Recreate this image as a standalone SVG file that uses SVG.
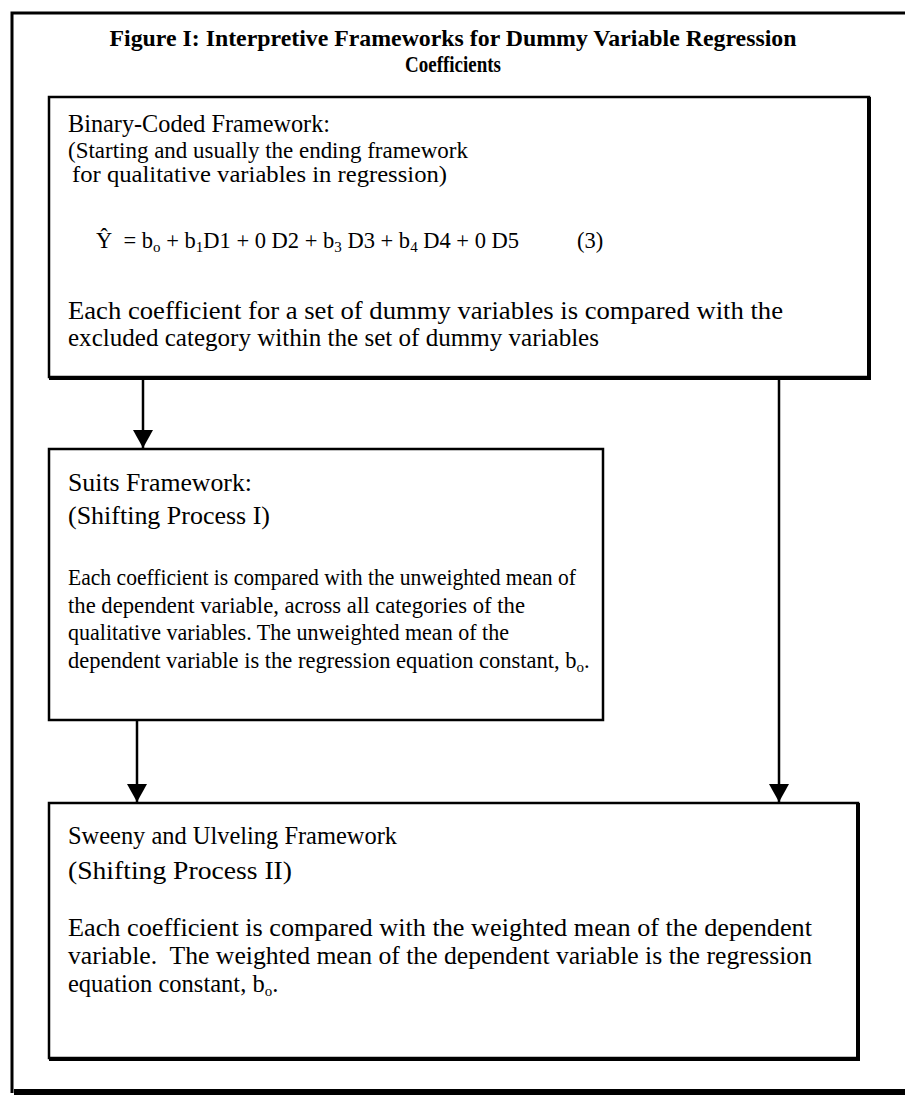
<svg xmlns="http://www.w3.org/2000/svg" width="905" height="1095" viewBox="0 0 905 1095">
<style>
text{font-family:"Liberation Serif","Times New Roman",serif;fill:#000}
.title{font-weight:bold;font-size:24px}
.head{font-size:26px}
.body{font-size:22.5px}
.big{font-size:24.5px}
.sub{font-size:15px}
.box{fill:#fff;stroke:#000;stroke-width:2.5}
.conn{stroke:#000;stroke-width:2.5;fill:none}
</style>
<defs>
<marker id="arr" markerWidth="18" markerHeight="20" refX="18" refY="10" orient="auto" markerUnits="userSpaceOnUse" viewBox="0 0 18 20">
<path d="M0,0 L18,10 L0,20 Z" fill="#000"/>
</marker>
</defs>
<rect width="905" height="1095" fill="#fff"/>
<g id="frame">
<path d="M12,1093 V13 H905" fill="none" stroke="#000" stroke-width="3"/>
<rect x="14" y="1089" width="891" height="6" fill="#000"/>
</g>
<g id="title">
<text class="title" x="453" y="46" text-anchor="middle" textLength="687" lengthAdjust="spacingAndGlyphs">Figure I: Interpretive Frameworks for Dummy Variable Regression</text>
<text class="title" x="453" y="72" text-anchor="middle" textLength="96" lengthAdjust="spacingAndGlyphs">Coefficients</text>
</g>
<g id="connectors">
<line class="conn" x1="143" y1="377" x2="143" y2="448" marker-end="url(#arr)"/>
<line class="conn" x1="779" y1="377" x2="779" y2="802" marker-end="url(#arr)"/>
<line class="conn" x1="137" y1="720" x2="137" y2="802" marker-end="url(#arr)"/>
</g>
<g id="binary">
<rect class="box" x="49" y="97" width="820" height="280"/>
<path d="M869,97 V378 H49" fill="none" stroke="#000" stroke-width="4"/>
<text class="head" x="68" y="132" textLength="262" lengthAdjust="spacingAndGlyphs">Binary-Coded Framework:</text>
<text class="body" x="68" y="158" textLength="400" lengthAdjust="spacingAndGlyphs">(Starting and usually the ending framework</text>
<text class="body" x="72" y="182" textLength="375" lengthAdjust="spacingAndGlyphs">for qualitative variables in regression)</text>
<text class="body" x="96" y="248">Ŷ&#160; = b<tspan class="sub" dy="4">o</tspan><tspan dy="-4"> + b</tspan><tspan class="sub" dy="4">1</tspan><tspan dy="-4">D1 + 0 D2 + b</tspan><tspan class="sub" dy="4">3</tspan><tspan dy="-4"> D3 + b</tspan><tspan class="sub" dy="4">4</tspan><tspan dy="-4"> D4 + 0 D5</tspan><tspan x="577">(3)</tspan></text>
<text class="big" x="68" y="319" textLength="715" lengthAdjust="spacingAndGlyphs">Each coefficient for a set of dummy variables is compared with the</text>
<text class="big" x="68" y="346" textLength="531" lengthAdjust="spacingAndGlyphs">excluded category within the set of dummy variables</text>
</g>
<g id="suits">
<rect class="box" x="49" y="449" width="554" height="271"/>
<text class="head" x="68" y="491" textLength="184" lengthAdjust="spacingAndGlyphs">Suits Framework:</text>
<text class="head" x="68" y="524" textLength="202" lengthAdjust="spacingAndGlyphs">(Shifting Process I)</text>
<text class="body" x="68" y="585" textLength="508" lengthAdjust="spacingAndGlyphs">Each coefficient is compared with the unweighted mean of</text>
<text class="body" x="68" y="613" textLength="457" lengthAdjust="spacingAndGlyphs">the dependent variable, across all categories of the</text>
<text class="body" x="68" y="640" textLength="441" lengthAdjust="spacingAndGlyphs">qualitative variables. The unweighted mean of the</text>
<text class="body" x="68" y="668">dependent variable is the regression equation constant, b<tspan class="sub" dy="4">o</tspan><tspan dy="-4">.</tspan></text>
</g>
<g id="sweeny">
<rect class="box" x="49" y="803" width="809" height="255"/>
<path d="M858,803 V1059 H49" fill="none" stroke="#000" stroke-width="4"/>
<text class="head" x="68" y="844" textLength="329" lengthAdjust="spacingAndGlyphs">Sweeny and Ulveling Framework</text>
<text class="head" x="68" y="879" textLength="224" lengthAdjust="spacingAndGlyphs">(Shifting Process II)</text>
<text class="big" x="68" y="936" textLength="744" lengthAdjust="spacingAndGlyphs">Each coefficient is compared with the weighted mean of the dependent</text>
<text class="big" x="68" y="964" textLength="744" lengthAdjust="spacingAndGlyphs">variable.&#160; The weighted mean of the dependent variable is the regression</text>
<text class="big" x="68" y="992">equation constant, b<tspan class="sub" dy="4">o</tspan><tspan dy="-4">.</tspan></text>
</g>
</svg>
